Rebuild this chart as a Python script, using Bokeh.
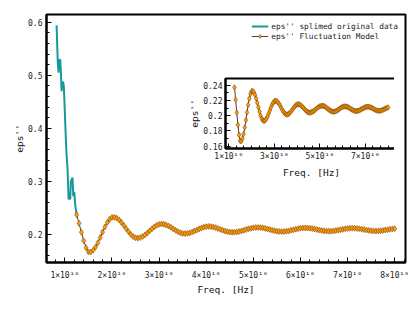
import numpy as np
from bokeh.plotting import figure
from bokeh.layouts import column
from bokeh.models import FixedTicker, CustomJSTickFormatter, Legend, LegendItem, ColumnDataSource
from bokeh.embed import file_html
from bokeh.resources import INLINE

# ---------------- data ----------------
# spline of the original data (visible part, Hz)
orig_freq = [0.824e10, 0.851e10, 0.866e10, 0.887e10, 0.902e10, 0.915e10, 0.930e10, 0.951e10,
             0.966e10, 0.979e10, 1.030e10, 1.057e10, 1.079e10, 1.115e10, 1.127e10, 1.163e10,
             1.178e10, 1.200e10, 1.221e10, 1.248e10]
orig_eps = [0.594, 0.521, 0.505, 0.530, 0.528, 0.508, 0.470, 0.487,
            0.487, 0.477, 0.360, 0.322, 0.267, 0.267, 0.300, 0.307,
            0.272, 0.280, 0.254, 0.238]

# fluctuation model, sampled from 1.25e10 to 8.0e10 Hz every 0.05e10 Hz
model_freq = np.linspace(1.25e10, 8.0e10, 136)
model_eps = [
    0.2370, 0.2210, 0.2040, 0.1880, 0.1750, 0.1670,
    0.1666, 0.1700, 0.1760, 0.1844, 0.1942, 0.2043, 0.2141, 0.2224, 0.2285, 0.2319,
    0.2323, 0.2307, 0.2274, 0.2226, 0.2170, 0.2110, 0.2051, 0.1999, 0.1959, 0.1936,
    0.1930, 0.1939, 0.1959, 0.1989, 0.2026, 0.2067, 0.2107, 0.2142, 0.2170, 0.2189, 0.2195,
    0.2191, 0.2178, 0.2158, 0.2133, 0.2105, 0.2077, 0.2052, 0.2032, 0.2019, 0.2015,
    0.2018, 0.2028, 0.2043, 0.2062, 0.2083, 0.2103, 0.2122, 0.2137, 0.2147, 0.2150,
    0.2147, 0.2139, 0.2127, 0.2112, 0.2095, 0.2078, 0.2063, 0.2050, 0.2043, 0.2040,
    0.2042, 0.2047, 0.2056, 0.2066, 0.2079, 0.2091, 0.2104, 0.2114, 0.2123, 0.2128, 0.2130,
    0.2128, 0.2123, 0.2114, 0.2103, 0.2091, 0.2079, 0.2068, 0.2059, 0.2054, 0.2052,
    0.2054, 0.2059, 0.2066, 0.2076, 0.2087, 0.2098, 0.2108, 0.2115, 0.2120, 0.2122,
    0.2120, 0.2116, 0.2109, 0.2101, 0.2091, 0.2081, 0.2073, 0.2066, 0.2062, 0.2060,
    0.2061, 0.2065, 0.2072, 0.2080, 0.2089, 0.2097, 0.2105, 0.2112, 0.2116, 0.2117,
    0.2116, 0.2112, 0.2106, 0.2099, 0.2091, 0.2082, 0.2075, 0.2069, 0.2065, 0.2064,
    0.2065, 0.2069, 0.2074, 0.2081, 0.2088, 0.2096, 0.2103, 0.2108,
]

main_x_ticks = [1e10, 2e10, 3e10, 4e10, 5e10, 6e10, 7e10, 8e10]
main_x_labels = ["1×10¹⁰", "2×10¹⁰", "3×10¹⁰", "4×10¹⁰", "5×10¹⁰", "6×10¹⁰", "7×10¹⁰", "8×10¹⁰"]
main_y_ticks = [0.2, 0.3, 0.4, 0.5, 0.6]
main_y_labels = ["0.2", "0.3", "0.4", "0.5", "0.6"]
inset_x_ticks = [1e10, 3e10, 5e10, 7e10]
inset_x_labels = ["1×10¹⁰", "3×10¹⁰", "5×10¹⁰", "7×10¹⁰"]
inset_y_ticks = [0.16, 0.18, 0.20, 0.22, 0.24]
inset_y_labels = ["0.16", "0.18", "0.2", "0.22", "0.24"]

label_orig = "eps'' splimed original data"
label_model = "eps'' Fluctuation Model"
x_title = "Freq. [Hz]"
y_title = "eps''"

TEAL = "#17999b"
ORANGE = "#ff9a0a"
EDGE = "#6a3a00"
FONT = "DejaVu Sans Mono"

fmt_code = """
for (let i = 0; i < tv.length; i++) {
  if (Math.abs(tv[i] - tick) < 1e-6 * Math.abs(tv[i])) return tl[i];
}
return "";
"""


def fmt(ticks, labels):
    return CustomJSTickFormatter(args=dict(tv=ticks, tl=labels), code=fmt_code)


def style(fig, xt, xl, xminor, yt, yl, yminor):
    fig.xgrid.visible = False
    fig.ygrid.visible = False
    fig.outline_line_color = "black"
    fig.outline_line_width = 2
    fig.outline_line_alpha = 1
    fig.xaxis.ticker = FixedTicker(ticks=xt, minor_ticks=xminor)
    fig.yaxis.ticker = FixedTicker(ticks=yt, minor_ticks=yminor)
    fig.xaxis.formatter = fmt(xt, xl)
    fig.yaxis.formatter = fmt(yt, yl)
    for ax in (fig.xaxis[0], fig.yaxis[0]):
        ax.axis_line_width = 2
        ax.axis_line_color = "black"
        ax.major_tick_in = 5
        ax.major_tick_out = 0
        ax.minor_tick_in = 3
        ax.minor_tick_out = 0
        ax.major_tick_line_color = "black"
        ax.minor_tick_line_color = "black"
        ax.major_label_text_font = FONT
        ax.major_label_text_font_size = "8px"
        ax.major_label_text_color = "#222222"
        ax.axis_label_text_font = FONT
        ax.axis_label_text_font_size = "9.5px"
        ax.axis_label_text_font_style = "normal"
        ax.axis_label_text_color = "#111111"
    fig.xaxis.axis_label = x_title
    fig.yaxis.axis_label = y_title


# ---------------- main figure ----------------
p = figure(frame_width=359, frame_height=248,
           x_range=(0.61e10, 8.23e10), y_range=(0.147, 0.6145),
           min_border_left=46, min_border_top=14, min_border_right=6, min_border_bottom=43,
           output_backend="svg", toolbar_location=None)
main_minor_x = [round(0.6e10 + i * 0.2e10) for i in range(39)]
main_minor_y = [round(0.16 + i * 0.02, 2) for i in range(23)]
style(p, main_x_ticks, main_x_labels, main_minor_x, main_y_ticks, main_y_labels, main_minor_y)
p.xaxis.major_label_standoff = 8
p.xaxis.axis_label_standoff = 1
p.yaxis.major_label_standoff = 4
p.yaxis.axis_label_standoff = 0

src_orig = ColumnDataSource(dict(x=orig_freq, y=orig_eps))
src_model = ColumnDataSource(dict(x=model_freq, y=model_eps))

r_orig = p.line("x", "y", source=src_orig, line_color=TEAL, line_width=2)
r_mline = p.line("x", "y", source=src_model, line_color="#444444", line_width=1)
r_mpts = p.scatter("x", "y", source=src_model, marker="diamond", size=6,
                   fill_color=ORANGE, line_color=EDGE, line_width=0.5)

legend = Legend(items=[LegendItem(label=label_orig, renderers=[r_orig]),
                       LegendItem(label=label_model, renderers=[r_mline, r_mpts])],
                location="top_right")
legend.border_line_alpha = 0
legend.background_fill_alpha = 0
legend.label_text_font = FONT
legend.label_text_font_size = "7.8px"
legend.label_text_color = "#222222"
legend.glyph_width = 17
legend.glyph_height = 10
legend.label_height = 10
legend.label_standoff = 3
legend.spacing = 0
legend.padding = 3
legend.margin = 4
p.add_layout(legend)

# ---------------- inset ----------------
inset = figure(frame_width=172, frame_height=70,
               x_range=(0.855e10, 8.41e10), y_range=(0.157, 0.2487),
               min_border_left=36, min_border_top=4, min_border_right=4, min_border_bottom=32,
               output_backend="svg", toolbar_location=None)
inset_minor_x = [round(1e10 + i * 1e10 / 3) for i in range(-1, 23)]
inset_minor_y = [round(0.16 + i * 0.01, 2) for i in range(-1, 10)]
style(inset, inset_x_ticks, inset_x_labels, inset_minor_x, inset_y_ticks, inset_y_labels, inset_minor_y)
inset.xaxis.major_label_standoff = 3
inset.xaxis.axis_label_standoff = 3
inset.yaxis.major_label_standoff = 3
inset.yaxis.axis_label_standoff = 0
inset.line("x", "y", source=src_model, line_color="#444444", line_width=1)
inset.scatter("x", "y", source=src_model, marker="diamond", size=5.5,
              fill_color=ORANGE, line_color=EDGE, line_width=0.5)
inset.margin = (-231, 0, 132, 179)

layout = column(p, inset)
open("out.html", "w").write(file_html(layout, INLINE))
